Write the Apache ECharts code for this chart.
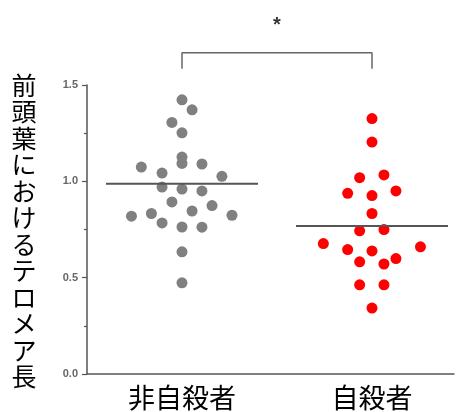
<!DOCTYPE html>
<html>
<head>
<meta charset="utf-8">
<script src="https://cdn.jsdelivr.net/npm/echarts@6/dist/echarts.min.js"></script>
<style>html,body{margin:0;padding:0;background:#fff}#c{width:457px;height:412px}</style>
</head>
<body>
<div id="c"></div>
<script>
const categories = ['非自殺者', '自殺者'];
const yTicks = [0.0, 0.5, 1.0, 1.5];
const yTitle = '前頭葉におけるテロメア長';

// Group 0: non-suicide (gray)
const nonSuicideValues = [1.423, 1.371, 1.306, 1.252, 1.126, 1.093, 1.090, 1.074, 1.043, 1.026, 0.970, 0.960,
  0.950, 0.893, 0.874, 0.846, 0.833, 0.819, 0.824, 0.784, 0.763, 0.762, 0.634, 0.473];
const nonSuicideJitter = [0, 0.053, -0.053, 0, 0, 0, 0.105, -0.214, -0.105, 0.210, -0.105, 0,
  0.105, -0.053, 0.158, 0.053, -0.161, -0.266, 0.263, -0.105, 0, 0.105, 0, 0];
// Group 1: suicide (red)
const suicideValues = [1.326, 1.204, 1.019, 1.033, 0.938, 0.926, 0.950, 0.833, 0.743, 0.750,
  0.677, 0.646, 0.639, 0.660, 0.582, 0.571, 0.599, 0.463, 0.463, 0.342];
const suicideJitter = [0, 0, -0.065, 0.063, -0.128, 0, 0.126, 0, -0.065, 0.063,
  -0.256, -0.128, 0, 0.255, -0.065, 0.063, 0.126, -0.065, 0.063, 0];
const meanLines = [0.988, 0.768];
const bracketY = [1.584, 1.667];
const significance = '*';

const toPts = (g, vals, jit) => vals.map((v, i) => [g + jit[i], v]);
const halfW = 0.4;

const chart = echarts.init(document.getElementById('c'), null, {renderer: 'canvas'});
chart.setOption({
  animation: false,
  backgroundColor: '#fff',
  grid: {left: 87, right: 3, top: 85, bottom: 38, containLabel: false},
  xAxis: {
    type: 'value', min: -0.5, max: 1.4316, interval: 0.5,
    splitLine: {show: false},
    axisLine: {show: true, onZero: false, lineStyle: {color: '#555', width: 1.5}},
    axisTick: {show: false},
    axisLabel: {
      margin: 10, color: '#000', fontSize: 27,
      fontFamily: '"Noto Sans CJK JP", sans-serif',
      showMinLabel: true, showMaxLabel: false,
      formatter: v => (Math.abs(v) < 1e-9 ? categories[0] : (Math.abs(v - 1) < 1e-9 ? categories[1] : ''))
    }
  },
  yAxis: {
    type: 'value', min: yTicks[0], max: yTicks[yTicks.length - 1], interval: 0.5,
    splitLine: {show: false},
    axisLine: {show: true, onZero: false, lineStyle: {color: '#555', width: 1.5}},
    axisTick: {show: true, length: 5, lineStyle: {color: '#555', width: 1.2}},
    minorTick: {show: true, splitNumber: 2, length: 3, lineStyle: {color: '#555', width: 1.2}},
    axisLabel: {
      color: '#666', fontSize: 11, fontWeight: 'bold', margin: 9,
      fontFamily: '"Liberation Sans", Arial, sans-serif',
      formatter: v => v.toFixed(1)
    }
  },
  graphic: [{
    type: 'text', x: 24, y: 231,
    style: {
      text: yTitle.split('').join('\n'), fill: '#000',
      font: '25px "Noto Sans CJK JP", sans-serif',
      lineHeight: 26.5, align: 'center', verticalAlign: 'middle'
    }
  }],
  series: [
    {
      type: 'scatter', name: categories[0], data: toPts(0, nonSuicideValues, nonSuicideJitter),
      symbolSize: 11, itemStyle: {color: '#808080', opacity: 1}, z: 3
    },
    {
      type: 'scatter', name: categories[1], data: toPts(1, suicideValues, suicideJitter),
      symbolSize: 11, itemStyle: {color: '#ff0000', opacity: 1}, z: 3
    },
    {
      type: 'line', data: [[0 - halfW, meanLines[0]], [0 + halfW, meanLines[0]]],
      symbol: 'none', lineStyle: {color: '#555', width: 2}, z: 4
    },
    {
      type: 'line', data: [[1 - halfW, meanLines[1]], [1 + halfW, meanLines[1]]],
      symbol: 'none', lineStyle: {color: '#555', width: 2}, z: 4
    },
    {
      type: 'line', clip: false,
      data: [[0, bracketY[0]], [0, bracketY[1]], [1, bracketY[1]], [1, bracketY[0]]],
      symbol: 'none', lineStyle: {color: '#666', width: 1.5}, z: 4
    },
    {
      type: 'scatter', clip: false, data: [[0.5, 1.808]], symbolSize: 0, silent: true,
      label: {show: true, position: 'inside', formatter: significance, color: '#000',
        fontSize: 20, fontWeight: 'bold', fontFamily: '"Liberation Sans", Arial, sans-serif'}
    }
  ]
});
</script>
</body>
</html>
